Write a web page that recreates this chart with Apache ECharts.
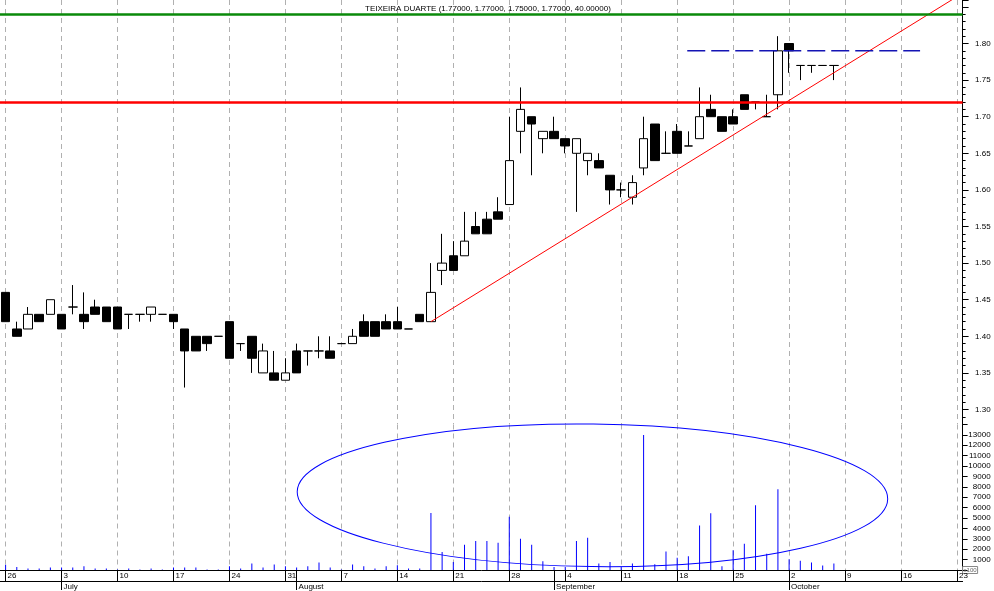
<!DOCTYPE html>
<html><head><meta charset="utf-8">
<script src="https://cdn.jsdelivr.net/npm/echarts@6/dist/echarts.min.js"></script>
<style>html,body{margin:0;padding:0;background:#fff}#c{width:994px;height:591px}</style>
</head><body><div id="c"></div>
<script>
// ---- trading days (2000), including the empty future days on the axis ----
const dates = [
 '06-26','06-27','06-28','06-29','06-30',
 '07-03','07-04','07-05','07-06','07-07',
 '07-10','07-11','07-12','07-13','07-14',
 '07-17','07-18','07-19','07-20','07-21',
 '07-24','07-25','07-26','07-27','07-28',
 '07-31','08-01','08-02','08-03','08-04',
 '08-07','08-08','08-09','08-10','08-11',
 '08-14','08-15','08-16','08-17','08-18',
 '08-21','08-22','08-23','08-24','08-25',
 '08-28','08-29','08-30','08-31','09-01',
 '09-04','09-05','09-06','09-07','09-08',
 '09-11','09-12','09-13','09-14','09-15',
 '09-18','09-19','09-20','09-21','09-22',
 '09-25','09-26','09-27','09-28','09-29',
 '10-02','10-03','10-04','10-05','10-06',
 '10-09','10-10','10-11','10-12','10-13',
 '10-16','10-17','10-18','10-19','10-20',
 '10-23'
];
const monthStarts = {'07-03':'July','08-01':'August','09-01':'September','10-02':'October'};

const opens = [
 1.46,1.41,1.41,1.43,1.43, 1.43,1.44,1.43,1.44,1.44, 1.44,1.43,1.43,1.43,1.43,
 1.43,1.41,1.40,1.40,1.40, 1.42,1.39,1.40,1.35,1.35, 1.34,1.38,1.38,1.38,1.38,
 1.39,1.39,1.42,1.42,1.42, 1.42,1.41,1.43,1.42,1.49, 1.51,1.51,1.55,1.56,1.57,
 1.58,1.68,1.70,1.67,1.68, 1.67,1.65,1.64,1.64,1.62, 1.60,1.59,1.63,1.69,1.65,
 1.68,1.66,1.67,1.71,1.70, 1.70,1.73,1.72,1.70,1.73, 1.80,1.77,1.77,1.77,1.77
];
const highs = [
 1.46,1.42,1.44,1.43,1.45, 1.43,1.47,1.46,1.45,1.44, 1.44,1.43,1.43,1.44,1.43,
 1.43,1.41,1.40,1.40,1.40, 1.42,1.39,1.40,1.39,1.38, 1.37,1.39,1.38,1.40,1.40,
 1.39,1.41,1.43,1.42,1.43, 1.44,1.41,1.43,1.50,1.54, 1.53,1.57,1.57,1.57,1.59,
 1.70,1.74,1.70,1.68,1.70, 1.67,1.67,1.65,1.65,1.62, 1.61,1.62,1.70,1.69,1.68,
 1.69,1.68,1.74,1.73,1.70, 1.71,1.73,1.72,1.73,1.81, 1.80,1.77,1.77,1.77,1.77
];
const lows = [
 1.42,1.40,1.41,1.42,1.43, 1.41,1.43,1.41,1.43,1.42, 1.41,1.41,1.42,1.42,1.43,
 1.41,1.33,1.38,1.38,1.40, 1.37,1.38,1.35,1.35,1.34, 1.34,1.35,1.36,1.37,1.37,
 1.39,1.39,1.40,1.40,1.41, 1.41,1.41,1.42,1.42,1.47, 1.49,1.51,1.54,1.54,1.56,
 1.58,1.65,1.62,1.65,1.67, 1.65,1.57,1.62,1.63,1.58, 1.59,1.58,1.62,1.64,1.65,
 1.65,1.66,1.67,1.70,1.68, 1.69,1.71,1.71,1.70,1.71, 1.76,1.75,1.76,1.77,1.75
];
const closes = [
 1.42,1.40,1.43,1.42,1.45, 1.41,1.44,1.42,1.43,1.42, 1.41,1.43,1.43,1.44,1.43,
 1.42,1.38,1.38,1.39,1.40, 1.37,1.39,1.37,1.38,1.34, 1.35,1.35,1.38,1.38,1.37,
 1.39,1.40,1.40,1.40,1.41, 1.41,1.41,1.42,1.46,1.50, 1.49,1.53,1.54,1.54,1.56,
 1.64,1.71,1.69,1.68,1.67, 1.66,1.67,1.65,1.63,1.60, 1.60,1.61,1.67,1.64,1.65,
 1.65,1.66,1.70,1.70,1.68, 1.69,1.71,1.72,1.70,1.79, 1.79,1.77,1.77,1.77,1.77
];
// volume in hundreds (axis shows "x100")
const volumes = [
 500,300,140,140,240, 240,240,360,140,140, 60,140,60,140,60,
 240,240,240,60,60, 360,140,620,240,520, 360,240,360,710,240,
 60,520,360,140,360, 460,140,140,5480,1730, 780,2430,2780,2780,2620,
 5130,3000,2430,840,300, 300,2780,3100,620,780, 300,620,13000,550,1790,
 1190,1320,4270,5450,360, 1890,2520,6240,1570,7760, 1030,900,710,430,620
];

const titleText = 'TEIXEIRA DUARTE (1.77000, 1.77000, 1.75000, 1.77000, 40.00000)';
const resistanceLevel = 1.721;
const topLevel = 1.845;
const trendLine = [[38, 1.42], [85, 1.864]];
const dashedLevel = [[60.9, 1.79], [81.7, 1.79]];
const ellipseNote = {k: 52.43, vol: 7190, rk: 26.38, rvol: 6860, tiltDeg: 0.7};

// ---- layout ----
const FONT = "'Liberation Sans', Arial, sans-serif";
const GL = -0.6, GW = 963.2;
const PRICE_MAX = 1.85943;
const nCat = dates.length;

const candles = opens.map((o, i) => [o, closes[i], lows[i], highs[i]]);
const gridSplit = {
  show: true, alignWithLabel: true,
  interval: (i) => i % 5 === 0,
  lineStyle: {color: '#b0b0b0', type: [5, 4], width: 1}
};

const chart = echarts.init(document.getElementById('c'), null, {renderer: 'canvas'});
chart.setOption({
  animation: false,
  backgroundColor: '#ffffff',
  textStyle: {fontFamily: FONT},
  title: {text: titleText, left: 360, top: 0,
    textStyle: {fontSize: 8, fontWeight: 'normal', color: '#000', fontFamily: FONT}},
  grid: [
    {left: GL, width: GW, top: 0, height: 424.14},   // price
    {left: GL, width: GW, top: 424.5, height: 147},  // volume
    {left: GL, width: GW, top: 0, height: 409.5}     // price major ticks/labels
  ],
  xAxis: [
    {type: 'category', gridIndex: 0, data: dates, boundaryGap: true,
     axisLine: {show: false, onZero: false}, axisTick: {show: false}, axisLabel: {show: false},
     splitLine: gridSplit},
    {type: 'category', gridIndex: 1, data: dates, boundaryGap: true,
     axisLine: {show: true, onZero: false, lineStyle: {color: '#000', width: 1}},
     axisTick: {show: true, alignWithLabel: true, length: 11,
       interval: (i, v) => i % 5 === 0 || (v in monthStarts),
       lineStyle: {color: '#000'}},
     axisLabel: {show: true, interval: (i) => i % 5 === 0,
       formatter: (v) => String(parseInt(v.slice(3), 10)),
       align: 'left', margin: 2, padding: [0, 0, 0, 2],
       fontSize: 8, color: '#000', fontFamily: FONT},
     splitLine: gridSplit},
    {type: 'category', gridIndex: 1, data: dates, boundaryGap: true,
     position: 'bottom', offset: 11,
     axisLine: {show: true, onZero: false, lineStyle: {color: '#000', width: 1}},
     axisTick: {show: true, alignWithLabel: true, length: 9,
       interval: (i, v) => (v in monthStarts), lineStyle: {color: '#000'}},
     axisLabel: {show: true, interval: (i, v) => (v in monthStarts),
       formatter: (v) => monthStarts[v] || '',
       align: 'left', margin: 2, padding: [0, 0, 0, 2],
       fontSize: 8, color: '#000', fontFamily: FONT},
     splitLine: {show: false}},
    {type: 'category', gridIndex: 2, data: dates, show: false, axisLine: {onZero: false}},
    {type: 'value', gridIndex: 0, min: -0.5, max: nCat - 0.5, show: false, axisLine: {onZero: false}},
    {type: 'value', gridIndex: 1, min: -0.5, max: nCat - 0.5, show: false, axisLine: {onZero: false}}
  ],
  yAxis: [
    {type: 'value', gridIndex: 0, position: 'right', min: 1.28, max: PRICE_MAX, interval: 0.01,
     axisLine: {show: true, onZero: false, lineStyle: {color: '#000', width: 1}},
     axisTick: {show: true, length: 3, lineStyle: {color: '#000'}},
     axisLabel: {show: false}, splitLine: {show: false}},
    {type: 'value', gridIndex: 1, position: 'right', min: 0, max: 14000, interval: 1000,
     axisLine: {show: true, onZero: false, lineStyle: {color: '#000', width: 1}},
     axisTick: {show: true, length: 5, lineStyle: {color: '#000'}},
     axisLabel: {show: true, align: 'right', margin: 28, fontSize: 8, color: '#000', fontFamily: FONT,
       formatter: (v) => v === 0 ? '{b|x100}{s|}' : (v >= 14000 ? '' : String(v)),
       rich: {
         b: {fontSize: 6, color: '#666', borderColor: '#888', borderWidth: 1, padding: [1, 1, 0, 1], fontFamily: FONT},
         s: {width: 13}
       }},
     splitLine: {show: false}},
    {type: 'value', gridIndex: 2, position: 'right', min: 1.30, max: PRICE_MAX, interval: 0.05,
     axisLine: {show: true, onZero: false, lineStyle: {color: '#000', width: 1}},
     axisTick: {show: true, length: 6, lineStyle: {color: '#000'}},
     axisLabel: {show: true, align: 'right', margin: 28, fontSize: 8, color: '#000', fontFamily: FONT,
       formatter: (v) => v <= 1.8001 ? v.toFixed(2) : ''},
     splitLine: {show: false}}
  ],
  series: [
    {type: 'candlestick', xAxisIndex: 0, yAxisIndex: 0, data: candles, barWidth: 9,
     itemStyle: {color: '#ffffff', color0: '#000000', borderColor: '#000000', borderColor0: '#000000',
       borderColorDoji: '#000000', borderWidth: 1},
     emphasis: {disabled: true},
     markLine: {silent: true, symbol: 'none', label: {show: false}, animation: false,
       data: [
         {yAxis: resistanceLevel, lineStyle: {color: '#ff0000', width: 2.5, type: 'solid'}},
         {yAxis: topLevel, lineStyle: {color: '#0a8a0a', width: 2.5, type: 'solid'}}
       ]}},
    {type: 'bar', xAxisIndex: 1, yAxisIndex: 1, data: volumes, barWidth: 1,
     itemStyle: {color: '#0000ff'}, emphasis: {disabled: true}},
    {type: 'line', xAxisIndex: 4, yAxisIndex: 0, data: trendLine, symbol: 'none', clip: true,
     lineStyle: {color: '#ff0000', width: 1}, silent: true},
    {type: 'line', xAxisIndex: 4, yAxisIndex: 0, data: dashedLevel, symbol: 'none', clip: true,
     lineStyle: {color: '#1414b4', width: 1.5, type: [18, 6]}, silent: true}
  ]
});

// ellipse annotation on the volume panel, positioned from data coordinates
const finder = {xAxisIndex: 5, yAxisIndex: 1};
const c0 = chart.convertToPixel(finder, [ellipseNote.k, ellipseNote.vol]);
const cx1 = chart.convertToPixel(finder, [ellipseNote.k + ellipseNote.rk, ellipseNote.vol]);
const cy1 = chart.convertToPixel(finder, [ellipseNote.k, ellipseNote.vol + ellipseNote.rvol]);
chart.setOption({
  graphic: [{
    type: 'ellipse', x: c0[0], y: c0[1], rotation: -ellipseNote.tiltDeg * Math.PI / 180,
    shape: {cx: 0, cy: 0, rx: Math.abs(cx1[0] - c0[0]), ry: Math.abs(c0[1] - cy1[1])},
    style: {fill: 'transparent', stroke: '#0000ff', lineWidth: 1}, silent: true, z: 10
  }]
});
</script></body></html>
